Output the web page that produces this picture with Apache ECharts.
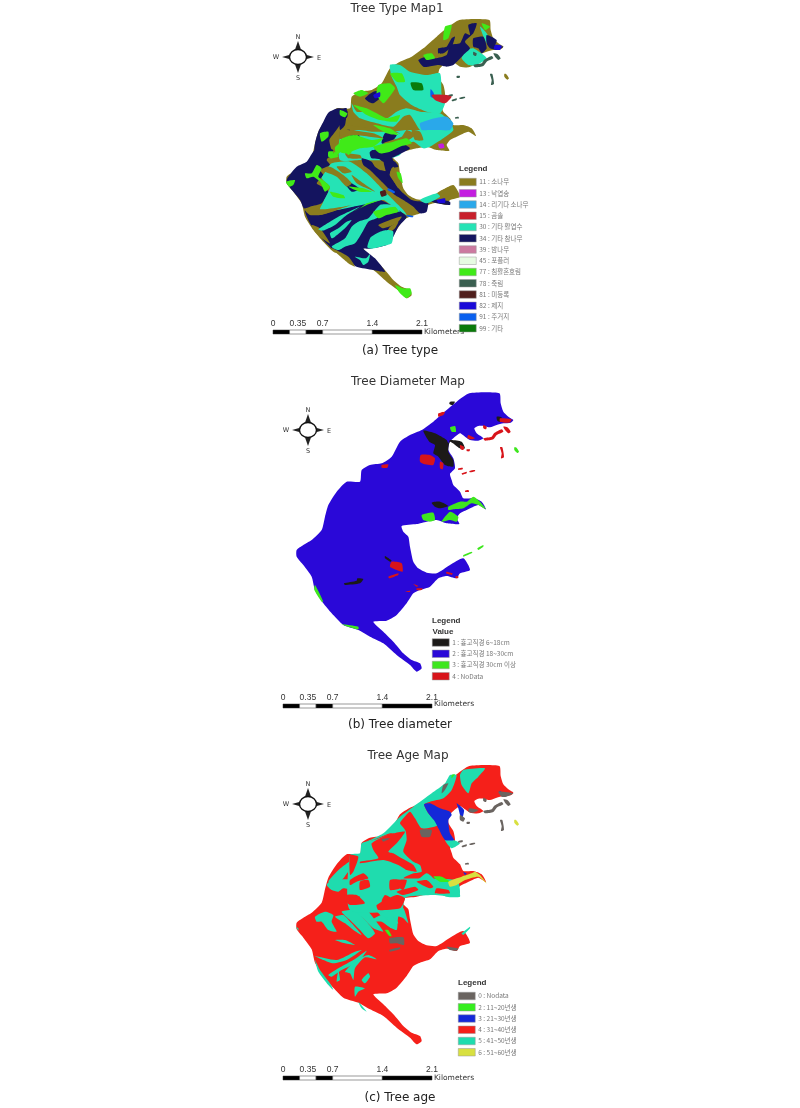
<!DOCTYPE html>
<html><head><meta charset="utf-8">
<style>html,body{margin:0;padding:0;background:#fff}#c{width:800px;height:1108px}</style>
<script src="https://cdn.jsdelivr.net/npm/echarts@6/dist/echarts.min.js"></script>
</head><body><div id="c"></div>
<script>
// ---- shared geography, map units ----
const coast=[[[598,70],[688,70],[692,100],[700,125],[715,140],[730,150],[722,158],[700,160],[680,165],[660,172],[640,168],[625,168],[613,175],[620,190],[640,205],[625,212],[600,210],[585,200],[570,190],[550,205],[538,218],[535,240],[550,265],[555,295],[540,312],[545,330],[550,345],[570,365],[580,385],[610,385],[635,395],[648,418],[625,405],[590,420],[570,430],[560,445],[568,462],[530,460],[500,450],[470,455],[440,462],[395,468],[400,485],[415,500],[420,530],[430,575],[445,595],[470,608],[500,610],[540,585],[580,565],[600,600],[570,610],[560,625],[530,618],[505,625],[480,650],[450,660],[430,670],[410,700],[380,735],[350,752],[310,755],[340,785],[370,815],[400,850],[425,870],[450,880],[455,895],[440,905],[420,885],[380,855],[340,820],[300,800],[265,780],[220,765],[185,730],[160,700],[135,660],[125,620],[100,585],[80,560],[80,540],[100,525],[125,510],[155,480],[165,440],[175,405],[200,365],[230,335],[270,335],[275,300],[300,285],[335,280],[365,260],[390,215],[420,195],[455,180],[490,155],[530,120],[560,95]]];
const islets=[[[690,232],[697,232],[702,262],[693,265],[695,250]],[[640,205],[665,200],[672,190],[695,178],[700,185],[680,195],[670,208],[645,212]],[[700,170],[712,172],[722,185],[715,190],[705,180]],[[565,295],[578,293],[578,298],[565,300]],[[575,310],[590,305],[590,310],[577,314]],[[598,303],[615,300],[615,304],[600,307]],[[585,362],[595,360],[597,365],[586,366]],[[590,238],[600,238],[598,244],[590,243]],[[640,165],[650,170],[648,178],[640,175]]];
const farIslet=[[[733,232],[738,232],[747,245],[742,249],[733,240]]];
const shiftA=[0,-10], shiftB=[0,0], shiftC=[0,8];
const tileA1=[60,450], tileA2=[240,45], tileC1=[60,420], tileC2=[240,75];

// ---- scale bar ----
const scaleTicks=[0,0.35,0.7,1.4,2.1];
const scaleBlocks=[[0,0.2333,1],[0.2333,0.4667,0],[0.4667,0.7,1],[0.7,1.4,0],[1.4,2.1,1]];

// ---- (a) tree type classes: west, south tile ----
const typeNames=['11 : 소나무','13 : 낙엽송','14 : 리기다 소나무','15 : 곰솔','30 : 기타 활엽수','34 : 기타 참나무','39 : 밤나무','45 : 포플러','77 : 침활혼효림','78 : 죽림','81 : 미등록','82 : 제지','91 : 주거지','99 : 기타'];
const oakWest=[[[205,338],[235,325],[262,332],[262,350],[240,375],[222,400],[208,420],[215,450],[225,470],[165,470],[165,430],[175,395],[190,365]]];
const mixedWest=[[[180,400],[205,395],[205,410],[185,425]],[[290,405],[255,420],[225,442],[230,466],[250,446],[280,432],[300,412]],[[205,455],[220,455],[215,475],[205,470]],[[240,330],[262,340],[255,352],[240,345]]];
const oakSouthBase=[[[105,0],[160,0],[140,30],[150,45],[120,60],[130,75],[110,100],[135,115],[145,125],[125,160],[90,170],[72,175],[60,150],[20,100],[22,85],[50,50],[80,35]],
[[75,180],[120,195],[190,175],[230,165],[260,160],[300,150],[340,170],[380,200],[355,230],[340,260],[320,285],[270,296],[250,296],[285,325],[315,365],[280,360],[230,350],[210,335],[180,310],[155,295],[125,265],[90,220]]];
const broadSouth=[[[155,40],[210,35],[260,70],[300,110],[330,140],[370,180],[380,195],[340,170],[310,150],[270,160],[220,170],[170,180],[120,180],[130,155],[145,125],[150,110],[125,85],[140,60]]];
const oakSouthBands=[[[245,25],[275,35],[285,50],[300,60],[320,65],[345,100],[360,120],[370,130],[395,150],[430,155],[445,150],[440,185],[420,190],[400,170],[370,150],[345,135],[320,110],[300,90],[270,60],[250,45]],
[[310,25],[345,35],[355,50],[335,55],[325,85]],[[275,0],[330,15],[340,35],[310,35],[290,20]],[[190,92],[215,100],[240,118],[215,125]],[[445,150],[480,150],[510,155],[510,165],[470,160]]];
const pineSouth=[[[125,60],[150,50],[190,75],[215,100],[200,110],[170,80]],[[170,50],[195,50],[215,65],[190,70]],[[215,75],[250,100],[285,125],[260,115],[230,100]],[[340,50],[360,80],[365,105],[355,115],[345,100],[330,70]],
[[75,180],[130,178],[190,170],[215,165],[170,180],[120,195],[90,195]],[[95,225],[120,235],[150,280],[125,265],[105,245]],[[155,295],[205,320],[225,350],[205,340]],
[[280,265],[320,245],[330,230],[355,215],[345,235],[320,255],[290,270]],[[295,225],[345,205],[365,200],[350,220],[310,235]],[[310,370],[340,400],[355,420],[345,410],[320,385]],[[470,130],[510,110],[510,135],[480,145]],[[195,10],[240,15],[245,25],[205,25]]];
const broadFingers=[[[115,238],[150,215],[185,195],[240,170],[200,195],[165,225],[135,240],[125,242]],[[150,250],[175,235],[200,215],[215,210],[195,235],[165,260],[155,265]],
[[155,290],[195,265],[215,230],[235,215],[265,205],[300,165],[335,165],[360,185],[320,180],[290,205],[265,215],[245,250],[225,280],[195,290],[175,300]],
[[262,292],[272,262],[300,245],[325,240],[340,245],[335,280],[310,288],[275,296]],[[225,320],[258,325],[270,312],[265,335],[250,345],[240,330]],[[420,150],[470,130],[480,140],[440,160]]];
const mixedSouth=[[[75,70],[95,70],[110,45],[125,55],[115,80],[135,95],[150,110],[135,125],[120,95],[100,80],[80,85]],[[18,95],[45,90],[40,105],[28,110]],[[150,125],[190,135],[195,145],[160,140]],[[205,110],[250,115],[275,125],[240,125]],
[[155,15],[165,5],[175,20],[150,25]],[[195,0],[215,5],[205,15]],[[280,185],[345,170],[355,185],[320,195],[295,205]],[[205,190],[240,175],[260,160],[300,150],[260,165],[230,180]],[[345,405],[370,415],[390,415],[395,430],[380,445],[360,430]],[[350,65],[362,70],[368,100],[355,85]]];
const roadSouth=[[[470,150],[495,145],[495,158],[475,158]]];
const homeSouth=[[[325,115],[345,125],[342,130],[322,120]],[[380,195],[400,198],[398,202],[380,199]]];
const unregSouth=[[[300,125],[315,120],[320,135],[305,140]]];

// ---- (a) north tile ----
const broadNorth=[[[150,150],[180,150],[210,170],[260,180],[300,175],[305,240],[315,265],[300,295],[260,290],[215,270],[180,240],[170,215],[155,185]],
[[35,265],[50,290],[90,290],[140,310],[170,290],[200,280],[240,290],[300,295],[330,320],[340,345],[300,340],[260,350],[240,345],[210,300],[190,305],[160,335],[110,325],[60,310],[40,290]],
[[0,370],[50,345],[100,350],[160,350],[200,345],[240,345],[290,330],[340,345],[310,370],[270,395],[250,400],[220,380],[190,395],[180,420],[130,435],[60,435],[0,435]],
[[420,35],[440,55],[455,90],[440,85]],[[380,105],[400,100],[440,130],[410,150],[385,150],[365,130]],[[330,110],[345,115],[365,85],[375,110],[345,140],[325,140]]];
const pineNorth=[[[20,310],[100,325],[180,355],[130,345],[60,335],[20,330]],[[0,345],[100,355],[130,370],[40,360],[0,372]],[[215,345],[240,350],[250,375],[225,375]],[[130,385],[185,365],[200,345],[225,360],[190,385],[165,395]]];
const oakNorth=[[[75,250],[100,230],[130,228],[120,250],[100,265],[85,260]],
[[235,135],[260,125],[285,130],[320,120],[330,90],[360,85],[375,55],[390,60],[385,30],[410,25],[400,55],[375,80],[390,100],[370,120],[340,150],[320,155],[295,150],[265,155],[250,155]],
[[295,100],[320,95],[335,70],[345,65],[335,95],[310,115],[295,115]],[[400,70],[430,65],[440,100],[425,115],[415,100],[400,95]],[[440,60],[470,75],[465,95],[490,95],[470,105],[450,100],[440,85]],
[[0,285],[20,280],[15,330],[0,345]],[[0,350],[30,345],[20,370],[0,365]],[[25,350],[55,355],[60,380],[40,375]],[[135,355],[170,360],[150,385],[125,385]],[[90,410],[180,385],[210,400],[175,420],[150,430],[95,430]]];
const mixedNorth=[[[150,175],[185,175],[195,200],[170,200]],[[115,210],[150,205],[165,220],[145,250],[130,265],[110,240]],[[40,235],[65,225],[85,235],[60,245]],[[40,270],[80,280],[110,295],[140,310],[180,300],[170,320],[120,315],[80,300]],[[100,330],[150,340],[175,360],[140,355]],[[0,375],[40,360],[95,375],[130,370],[100,395],[60,400],[20,415],[0,410]],[[100,395],[160,380],[200,370],[215,385],[180,395],[150,410],[120,415]],[[315,35],[335,30],[325,70],[310,75]],[[425,25],[450,35],[435,45]],[[250,120],[275,115],[285,130],[260,135]]];
const otherNorth=[[[212,203],[245,205],[250,225],[220,225]]];
const commonNorth=[[[275,240],[320,240],[335,245],[315,265],[285,255]]];
const homeNorth=[[[272,222],[280,232],[285,250],[272,245]]];
const roadNorth=[[[100,240],[120,232],[120,245],[105,250]],[[465,90],[485,92],[480,105],[462,102]]];
const rigidaNorth=[[[240,325],[285,310],[320,305],[340,325],[330,345],[290,345],[265,345],[245,345]]];
const larchNorth=[[[295,388],[310,386],[313,398],[298,400]]];

// ---- (b) tree diameter classes ----
const diaNames=['1 : 흉고직경 6~18cm','2 : 흉고직경 18~30cm','3 : 흉고직경 30cm 이상','4 : NoData'];
const diaSmall=[[[460,182],[495,190],[530,210],[535,220],[540,210],[575,215],[585,235],[570,235],[540,215],[535,245],[550,270],[550,290],[525,285],[505,260],[490,250],[495,225],[478,215]],[[345,558],[365,572],[360,575],[345,565]],[[222,640],[260,632],[262,625],[280,627],[270,640],[225,645]],[[485,398],[510,395],[535,408],[510,415],[495,410]],[[540,95],[555,95],[548,105],[538,102]],[[680,140],[695,142],[690,155],[682,152]]];
const diaLarge=[[[535,410],[570,395],[590,395],[610,380],[630,395],[648,418],[625,405],[605,400],[580,415],[550,418],[535,420]],[[455,435],[490,428],[495,450],[480,455],[460,450]],[[515,455],[540,425],[565,440],[560,455],[540,450]],[[540,172],[555,168],[558,185],[545,185]],[[580,555],[605,545],[607,548],[580,560]],[[622,535],[640,525],[640,530],[625,540]],[[135,645],[160,695],[155,695],[133,660]],[[215,763],[265,770],[265,778],[225,767]],[[733,232],[738,232],[747,245],[742,249],[733,240]]];
const diaNoData=[[[452,255],[480,255],[495,265],[490,285],[465,283],[450,275]],[[335,285],[355,283],[352,293],[335,293]],[[510,275],[520,280],[518,298],[510,295]],[[595,195],[615,205],[605,208],[592,205]],[[690,145],[725,148],[718,158],[690,155]],[[570,225],[582,230],[580,240],[572,238]],[[505,130],[525,125],[520,135],[505,140]],[[365,575],[395,580],[398,605],[380,600],[360,590]],[[355,620],[385,610],[385,615],[358,625]],[[430,642],[445,648],[440,650]],[[405,665],[420,662],[420,666]],[[440,655],[458,655],[455,660],[440,660]],[[530,605],[548,610],[545,615],[528,610]],[[558,618],[566,620],[563,625],[556,623]]];

// ---- (c) tree age classes: west, south tile ----
const ageNames=['0 : Nodata','2 : 11~20년생','3 : 21~30년생','4 : 31~40년생','5 : 41~50년생','6 : 51~60년생'];
const age41West=[[[175,425],[200,395],[228,372],[262,352],[268,372],[235,395],[215,420]]];
const age41South=[[[110,15],[125,0],[240,0],[245,20],[215,15],[190,30],[160,25],[145,35],[125,30]],
[[255,0],[500,0],[510,40],[490,50],[430,45],[330,55],[345,95],[355,130],[340,115],[325,110],[320,150],[290,135],[275,110],[250,85],[225,75],[210,60],[180,30],[215,25],[245,45],[290,65],[270,30]],
[[75,110],[105,95],[130,105],[125,125],[140,155],[115,150],[95,125],[80,125]],[[135,110],[160,105],[185,130],[215,165],[190,150],[165,130]],[[155,95],[195,90],[230,125],[255,160],[235,175],[210,150],[180,120]],[[195,90],[225,85],[255,120],[280,155],[250,145],[220,115]],[[240,125],[275,105],[320,145],[305,145],[275,125]],[[290,115],[310,110],[325,130],[300,130]],
[[135,180],[165,180],[195,195],[165,190]],[[75,228],[140,240],[195,215],[215,210],[170,240],[130,250],[100,240]],[[115,285],[150,262],[190,240],[230,212],[205,245],[155,270],[125,290]],[[145,272],[150,300],[140,305]],[[165,275],[200,240],[235,225],[260,238],[225,232],[195,265],[190,300],[180,280]],[[215,300],[235,280],[240,290],[225,310]],[[195,320],[225,325],[205,335],[195,350]],[[75,240],[90,270],[120,310],[130,330],[115,315],[85,275]],[[205,365],[230,395],[215,385]],[[18,140],[25,145],[25,152]],[[515,160],[540,140],[540,145],[520,165]]];
const age31South=[[[300,0],[330,0],[330,25],[300,30]],[[165,45],[200,45],[225,70],[180,75],[165,60]],[[285,45],[310,60],[295,80],[275,65]],[[320,35],[375,20],[385,30],[340,45]],[[440,25],[475,30],[480,40],[435,40]]];
const age11South=[[[285,150],[295,150],[305,168],[298,168]]];
const age0South=[[[298,175],[340,172],[342,195],[320,190],[300,190]],[[298,210],[330,202],[330,207],[300,215]],[[470,200],[505,205],[500,212],[480,210]]];

// ---- (c) north tile ----
const age41North=[[[340,15],[405,10],[385,35],[365,55],[355,85],[335,60],[330,30]],
[[300,30],[320,30],[305,75],[280,100],[240,110],[222,118],[235,145],[265,180],[215,190],[195,160],[180,140],[160,160],[150,175],[165,195],[160,215],[135,205],[120,205],[70,225],[40,235],[100,205],[150,155],[190,125],[245,85],[285,55]],
[[35,235],[70,225],[100,215],[130,205],[165,195],[170,225],[160,260],[190,290],[210,300],[215,320],[190,325],[160,340],[200,345],[230,325],[250,340],[265,370],[300,365],[325,375],[330,395],[290,395],[240,375],[200,385],[165,400],[155,435],[0,435],[0,270],[30,265]],
[[285,225],[310,225],[330,235],[305,250]]];
const age31North=[[[65,235],[100,215],[130,205],[165,200],[140,235],[115,260],[130,265],[155,280],[190,300],[200,320],[170,315],[145,300],[100,285],[30,295],[30,290],[85,280],[70,255]],[[0,270],[25,275],[10,320],[0,330]],[[0,345],[40,325],[55,340],[20,350],[0,360]],[[30,350],[55,345],[60,365],[30,375]],[[145,345],[170,345],[160,375],[145,365]],[[80,420],[140,390],[165,400],[150,430],[85,435]],[[0,400],[30,395],[20,410],[0,415]],[[200,350],[230,345],[250,365],[240,370]]];
const age21North=[[[222,118],[240,115],[270,130],[300,140],[305,150],[295,165],[300,205],[312,225],[285,225],[265,190],[255,170],[235,145]],[[320,115],[342,135],[335,165],[330,150],[325,130]],[[448,78],[460,85],[455,92]],[[340,322],[350,325],[345,330]]];
const age0North=[[[210,195],[245,195],[240,215],[215,215]],[[358,130],[385,135],[370,143],[355,140]],[[445,80],[490,85],[470,95],[455,95]],[[95,222],[120,220],[100,230]],[[280,60],[295,55],[285,75],[275,85]],[[330,150],[345,160],[340,170],[330,165]]];
const age11North=[[[250,335],[275,335],[300,350],[270,350]],[[305,30],[315,28],[305,40]]];
const age51North=[[[295,350],[335,335],[365,325],[375,320],[390,330],[410,355],[385,335],[345,345],[320,360],[300,365]]];

// ---- style tables ----
const C={pine:'#8a7c1e',larch:'#c41ee0',rigida:'#2aa8ea',common:'#c8202c',broad:'#25e3b5',oak:'#14145f',chest:'#cc7aa0',poplar:'#e6fbe2',mixed:'#40ea18',bamboo:'#3a5f50',unreg:'#4f1e1c',road:'#1a0ad8',home:'#0a60ee',other:'#0a7a0a'};
const panels=[{left:260,top:0,w:280,h:370},{left:270,top:370,w:270,h:370},{left:270,top:740,w:270,h:368}];

function poly(name,polys,color,p,off){
  const o=off||[0,0];
  return {type:'custom',name,coordinateSystem:'cartesian2d',xAxisIndex:p,yAxisIndex:p,silent:true,animation:false,clip:false,
    itemStyle:{color},data:polys.map((_,i)=>[i,i]),
    renderItem:(params,api)=>({type:'polygon',shape:{smooth:0.2,points:polys[params.dataIndex].map(q=>api.coord([q[0]+o[0],q[1]+o[1]]))},style:{fill:color}})};
}
const T=typeNames,D=diaNames,A=ageNames;
const seriesA=[poly(T[0],coast,C.pine,0,shiftA),poly(T[1],[],C.larch,0),poly(T[2],[],C.rigida,0),poly(T[3],[],C.common,0),poly(T[4],[],C.broad,0),poly(T[5],oakWest,C.oak,0),poly(T[5],oakSouthBase,C.oak,0,tileA1),
 poly(T[4],broadSouth,C.broad,0,tileA1),poly(T[4],broadNorth,C.broad,0,tileA2),poly(T[5],oakSouthBands,C.oak,0,tileA1),poly(T[5],oakNorth,C.oak,0,tileA2),poly(T[6],[],C.chest,0),poly(T[7],[],C.poplar,0),
 poly(T[0],pineSouth,C.pine,0,tileA1),poly(T[0],pineNorth,C.pine,0,tileA2),poly(T[4],broadFingers,C.broad,0,tileA1),poly(T[8],mixedWest,C.mixed,0),poly(T[8],mixedSouth,C.mixed,0,tileA1),poly(T[8],mixedNorth,C.mixed,0,tileA2),
 poly(T[9],islets,C.bamboo,0,shiftA),poly(T[10],unregSouth,C.unreg,0,tileA1),poly(T[11],roadSouth,C.road,0,tileA1),poly(T[11],roadNorth,C.road,0,tileA2),poly(T[12],homeSouth,C.home,0,tileA1),poly(T[12],homeNorth,C.home,0,tileA2),poly(T[13],otherNorth,C.other,0,tileA2),
 poly(T[2],rigidaNorth,C.rigida,0,tileA2),poly(T[3],commonNorth,C.common,0,tileA2),poly(T[1],larchNorth,C.larch,0,tileA2),poly(T[0],farIslet,C.pine,0,shiftA)];
const seriesB=[poly(D[1],coast,'#2a08d8',1,shiftB),poly(D[0],diaSmall,'#1c1a18',1),poly(D[2],diaLarge,'#3ee61e',1),poly(D[3],diaNoData,'#d8141a',1),poly(D[3],islets,'#d8141a',1,shiftB)];
const seriesC=[poly(A[3],coast,'#f5201a',2,shiftC),poly(A[4],age41West,'#1fdcae',2),poly(A[4],age41South,'#1fdcae',2,tileC1),poly(A[4],age41North,'#1fdcae',2,tileC2),poly(A[3],age31South,'#f5201a',2,tileC1),poly(A[3],age31North,'#f5201a',2,tileC2),
 poly(A[2],age21North,'#1428d8',2,tileC2),poly(A[1],age11South,'#35ee1e',2,tileC1),poly(A[1],age11North,'#35ee1e',2,tileC2),poly(A[5],age51North,'#d8e040',2,tileC2),poly(A[5],farIslet,'#d8e040',2,shiftC),
 poly(A[0],age0South,'#6a6460',2,tileC1),poly(A[0],age0North,'#6a6460',2,tileC2),poly(A[0],islets,'#6a6460',2,shiftC)];

// scale bars live in grids 3,4,5, x axis in kilometres
const scaleBars=[{left:273,top:330},{left:283,top:704},{left:283,top:1076}];
const scaleSeries=scaleBars.map((_,i)=>({type:'custom',coordinateSystem:'cartesian2d',xAxisIndex:3+i,yAxisIndex:3+i,silent:true,animation:false,clip:false,
  data:scaleBlocks.map(b=>[b[0],b[1],b[2]]),
  renderItem:(params,api)=>{const a=api.coord([api.value(0),1]),b=api.coord([api.value(1),0]);
    return {type:'rect',shape:{x:a[0],y:a[1],width:b[0]-a[0],height:b[1]-a[1]},style:{fill:api.value(2)?'#000':'#fff',stroke:'#333',lineWidth:0.5}};}}));

const grids=panels.map(p=>({left:p.left,top:p.top,width:p.w,height:p.h})).concat(scaleBars.map(s=>({left:s.left,top:s.top,width:149,height:4})));
const xAxes=panels.map((p,i)=>({gridIndex:i,type:'value',show:false,min:0,max:p.w*3})).concat(scaleBars.map((_,i)=>({gridIndex:3+i,type:'value',min:0,max:2.1,position:'top',splitLine:{show:false},axisLine:{show:false},
  axisTick:{show:false},axisLabel:{customValues:scaleTicks,margin:2,fontSize:8.5,color:'#333',fontFamily:'Liberation Sans',hideOverlap:false,formatter:v=>String(v)}})));
const yAxes=panels.map((p,i)=>({gridIndex:i,type:'value',show:false,inverse:true,min:0,max:p.h*3})).concat(scaleBars.map((_,i)=>({gridIndex:3+i,type:'value',show:false,min:0,max:1})));

function legend(names,left,top){return {data:names,left,top,orient:'vertical',icon:'rect',itemWidth:17,itemHeight:7.5,itemGap:3.25,padding:0,selectedMode:false,
  itemStyle:{borderColor:'#999',borderWidth:0.5},textStyle:{fontSize:6.5,color:'#777',fontFamily:'Noto Sans CJK KR',padding:[0,0,0,-2],lineHeight:7.5}};}

function txt(x,y,text,size,opt){return Object.assign({type:'text',x,y,silent:true,style:Object.assign({text,font:size+'px "DejaVu Sans"',fill:'#333',textAlign:'center',textVerticalAlign:'middle'},opt||{})});}
function compass(cx,cy){
  const spike=(pts)=>({type:'polygon',silent:true,shape:{points:pts},style:{fill:'#222'}});
  return [spike([[cx-3.5,cy-6],[cx,cy-16],[cx+3.5,cy-6]]),spike([[cx-3.5,cy+6],[cx,cy+16],[cx+3.5,cy+6]]),spike([[cx+7,cy-2.5],[cx+16,cy],[cx+7,cy+2.5]]),spike([[cx-7,cy-2.5],[cx-16,cy],[cx-7,cy+2.5]]),
   {type:'ellipse',silent:true,shape:{cx,cy,rx:8.5,ry:7.5},style:{fill:'#fff',stroke:'#111',lineWidth:1.4}},
   txt(cx,cy-20,'N',6.5),txt(cx,cy+21,'S',6.5),txt(cx-22,cy+0.5,'W',6.5),txt(cx+21,cy+1,'E',6.5)];
}
const bold=(x,y,t)=>({type:'text',x,y,silent:true,style:{text:t,font:'bold 8px "Liberation Sans"',fill:'#333',textAlign:'left',textVerticalAlign:'middle'}});
const chart=echarts.init(document.getElementById('c'),null,{renderer:'canvas'});
chart.setOption({animation:false,backgroundColor:'#fff',grid:grids,xAxis:xAxes,yAxis:yAxes,
  legend:[legend(typeNames,459,178),legend(diaNames,432,638.5),legend(ageNames,458,992)],
  series:[...seriesA,...seriesB,...seriesC,...scaleSeries],
  graphic:{elements:[
    txt(397,9,'Tree Type Map1',12),txt(408,382,'Tree Diameter Map',12),txt(408,756,'Tree Age Map',12),
    txt(400,351,'(a) Tree type',12,{fill:'#222'}),txt(400,725,'(b) Tree diameter',12,{fill:'#222'}),txt(400,1098,'(c) Tree age',12,{fill:'#222'}),
    ...compass(298,57),...compass(308,430),...compass(308,804),
    txt(444,332,'Kilometers',7.5),txt(454,704,'Kilometers',7.5),txt(454,1078,'Kilometers',7.5),
    bold(459,169,'Legend'),bold(432,621,'Legend'),bold(432.5,632,'Value'),bold(458,983,'Legend')
  ]}
});
</script></body></html>
